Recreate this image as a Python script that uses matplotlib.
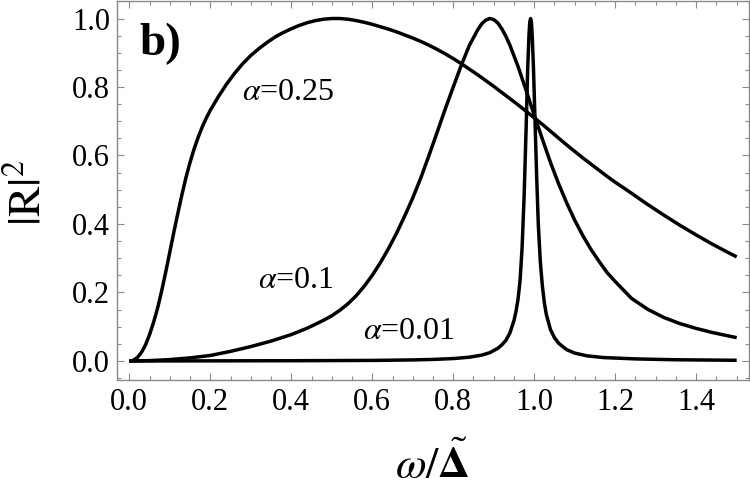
import matplotlib
matplotlib.use("Agg")
import matplotlib.pyplot as plt
from matplotlib.ticker import MultipleLocator, FixedLocator

plt.rcParams['font.family'] = ['Liberation Serif', 'DejaVu Serif']
plt.rcParams['mathtext.fontset'] = 'stix'

# ---- data ----
x_a25 = [0.00, 0.01, 0.02, 0.03, 0.04, 0.05, 0.06, 0.07, 0.08, 0.09, 0.10, 0.11, 0.12,
         0.13, 0.14, 0.15, 0.16, 0.17, 0.18, 0.19, 0.20, 0.22, 0.24, 0.26, 0.28, 0.30,
         0.32, 0.34, 0.36, 0.38, 0.40, 0.42, 0.44, 0.46, 0.48, 0.50, 0.52, 0.54, 0.56,
         0.58, 0.60, 0.62, 0.64, 0.66, 0.68, 0.70, 0.72, 0.74, 0.76, 0.78, 0.80, 0.82,
         0.84, 0.86, 0.88, 0.90, 0.92, 0.94, 0.96, 0.98, 1.00, 1.02, 1.04, 1.06, 1.08,
         1.10, 1.12, 1.14, 1.16, 1.18, 1.20, 1.24, 1.28, 1.32, 1.36, 1.40, 1.44, 1.48, 1.50]
y_a25 = [0.000, 0.002, 0.010, 0.025, 0.047, 0.077, 0.113, 0.155, 0.205, 0.260, 0.318, 0.376, 0.432,
         0.486, 0.536, 0.580, 0.619, 0.653, 0.683, 0.709, 0.732, 0.772, 0.808, 0.840, 0.868, 0.892,
         0.912, 0.930, 0.946, 0.959, 0.970, 0.980, 0.988, 0.994, 0.998, 1.000, 1.000, 0.998, 0.994,
         0.989, 0.983, 0.976, 0.969, 0.961, 0.952, 0.943, 0.933, 0.922, 0.910, 0.897, 0.883, 0.868,
         0.852, 0.836, 0.819, 0.802, 0.784, 0.766, 0.748, 0.729, 0.710, 0.691, 0.671, 0.651, 0.631,
         0.612, 0.593, 0.575, 0.557, 0.539, 0.522, 0.490, 0.457, 0.426, 0.396, 0.368, 0.341, 0.316, 0.304]

x_a10 = [0.00, 0.05, 0.10, 0.15, 0.20, 0.25, 0.30, 0.35, 0.40, 0.44, 0.48, 0.50, 0.52, 0.54,
         0.56, 0.58, 0.60, 0.62, 0.64, 0.66, 0.68, 0.70, 0.72, 0.74, 0.76, 0.78, 0.80, 0.82,
         0.84, 0.86, 0.87, 0.88, 0.89, 0.90, 0.91, 0.92, 0.93, 0.94, 0.96, 0.98, 1.00, 1.02,
         1.04, 1.06, 1.08, 1.10, 1.12, 1.14, 1.16, 1.18, 1.20, 1.24, 1.28, 1.32, 1.36, 1.40,
         1.44, 1.48, 1.50]
y_a10 = [0.000, 0.001, 0.004, 0.009, 0.016, 0.028, 0.042, 0.058, 0.077, 0.096, 0.119, 0.132, 0.148, 0.167,
         0.190, 0.218, 0.250, 0.287, 0.328, 0.373, 0.423, 0.476, 0.535, 0.600, 0.667, 0.735, 0.800, 0.864,
         0.922, 0.966, 0.984, 0.995, 1.000, 0.997, 0.987, 0.970, 0.948, 0.922, 0.860, 0.790, 0.718, 0.648,
         0.580, 0.518, 0.462, 0.411, 0.366, 0.326, 0.291, 0.258, 0.232, 0.183, 0.151, 0.127, 0.109, 0.095,
         0.083, 0.073, 0.068]

x_a01 = [0.0, 0.2, 0.4, 0.6, 0.7, 0.75, 0.8, 0.84, 0.87, 0.89, 0.91, 0.92, 0.93, 0.94, 0.95,
         0.955, 0.96, 0.965, 0.97, 0.975, 0.98, 0.984, 0.987, 0.989, 0.991, 0.993, 0.995, 0.998,
         1.002, 1.006, 1.010, 1.015, 1.02, 1.025, 1.03, 1.04, 1.05, 1.06, 1.08, 1.10, 1.13, 1.17,
         1.25, 1.35, 1.5]
y_a01 = [0.0, 0.0003, 0.0007, 0.0016, 0.003, 0.0045, 0.007, 0.011, 0.017, 0.024, 0.037, 0.047, 0.060,
         0.082, 0.118, 0.145, 0.180, 0.235, 0.330, 0.480, 0.680, 0.860, 0.950, 0.990, 1.000, 0.990,
         0.950, 0.860, 0.700, 0.540, 0.400, 0.290, 0.220, 0.170, 0.135, 0.092, 0.068, 0.052, 0.033,
         0.023, 0.015, 0.010, 0.006, 0.0035, 0.002]

labels = [r'$\alpha$=0.25', r'$\alpha$=0.1', r'$\alpha$=0.01']
x_ticks = [0.0, 0.2, 0.4, 0.6, 0.8, 1.0, 1.2, 1.4]
y_ticks = [0.0, 0.2, 0.4, 0.6, 0.8, 1.0]

W, H = 750, 496
fig = plt.figure(figsize=(W / 100, H / 100), dpi=100)
ax = fig.add_axes([117 / W, 1 - 380 / H, 632 / W, 379.5 / H])

for xs, ys in [(x_a25, y_a25), (x_a10, y_a10), (x_a01, y_a01)]:
    ax.plot(xs, ys, color='black', lw=2.5, solid_joinstyle='round', solid_capstyle='butt')

ax.set_xlim(-0.0304, 1.5304)
ax.set_ylim(-0.0556, 1.0526)
ax.xaxis.set_major_locator(FixedLocator(x_ticks))
ax.yaxis.set_major_locator(FixedLocator(y_ticks))
ax.xaxis.set_minor_locator(MultipleLocator(0.05))
ax.yaxis.set_minor_locator(MultipleLocator(0.05))
ax.set_xticklabels([f'{v:.1f}' for v in x_ticks])
ax.set_yticklabels([f'{v:.1f}' for v in y_ticks])

frame_col = '#8a8a8a'
for sp in ax.spines.values():
    sp.set_color(frame_col)
    sp.set_linewidth(1.0)
ax.tick_params(which='both', direction='in', top=True, right=True, color=frame_col,
               width=0.8, labelsize=22, labelcolor='black')
ax.tick_params(which='major', length=5.2)
ax.tick_params(which='minor', length=3.0)
ax.tick_params(axis='x', which='major', pad=6)
ax.tick_params(axis='y', which='major', pad=5)

def px(x, y):
    return x / W, 1 - y / H

fig.text(*px(139, 55), 'b)', fontsize=34, fontweight='bold', ha='left', va='baseline')
fig.text(*px(242, 100), labels[0], fontsize=23, ha='left', va='baseline')
fig.text(*px(258, 288), labels[1], fontsize=23, ha='left', va='baseline')
fig.text(*px(363, 339), labels[2], fontsize=23, ha='left', va='baseline')

fig.text(*px(29, 193), r'$|\mathrm{R}|^2$', fontsize=33, rotation=90, ha='center', va='center')
fig.text(*px(432, 465), r'$\omega/\tilde{\mathbf{\Delta}}$', fontsize=32, ha='center', va='center')

fig.savefig('out.png', dpi=100)
